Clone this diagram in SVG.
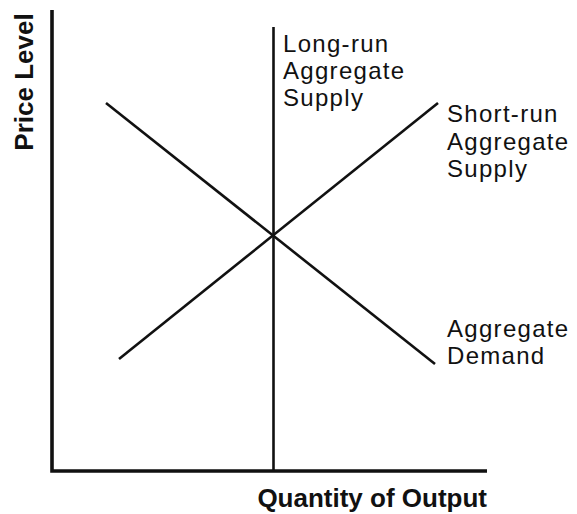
<svg xmlns="http://www.w3.org/2000/svg" width="577" height="514" viewBox="0 0 577 514">
<style>
.lbl{font-family:"Liberation Sans",Arial,sans-serif;font-size:24px;letter-spacing:1.3px;fill:#111}
.ax{font-family:"Liberation Sans",Arial,sans-serif;font-size:26px;font-weight:bold;fill:#111}
.curve{stroke:#111;stroke-width:2.6;fill:none}
.axis{stroke:#111;stroke-width:3.6;fill:none}
</style>
<rect width="577" height="514" fill="#fff"/>
<g id="axes">
<polyline class="axis" points="52,10 52,471 487,471"/>
<text class="ax" transform="translate(33,82) rotate(-90)" text-anchor="middle">Price Level</text>
<text class="ax" x="487" y="507" text-anchor="end">Quantity of Output</text>
</g>
<g id="connectors">
<line id="lras" class="curve" x1="273.5" y1="27" x2="273.5" y2="471"/>
<line id="sras" class="curve" x1="119" y1="359" x2="438" y2="103"/>
<line id="ad" class="curve" x1="106" y1="103" x2="435" y2="364"/>
</g>
<g id="lras-label">
<text class="lbl" x="283" y="52">Long-run</text>
<text class="lbl" x="283" y="79">Aggregate</text>
<text class="lbl" x="283" y="106">Supply</text>
</g>
<g id="sras-label">
<text class="lbl" x="447" y="122">Short-run</text>
<text class="lbl" x="447" y="150">Aggregate</text>
<text class="lbl" x="447" y="177">Supply</text>
</g>
<g id="ad-label">
<text class="lbl" x="447" y="337">Aggregate</text>
<text class="lbl" x="447" y="364">Demand</text>
</g>
</svg>
